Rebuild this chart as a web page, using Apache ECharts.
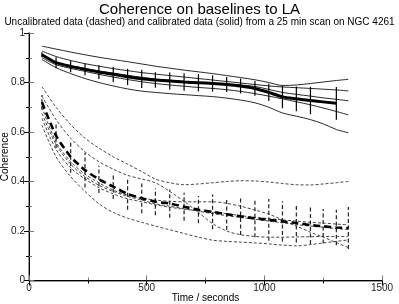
<!DOCTYPE html>
<html><head><meta charset="utf-8">
<script src="https://cdn.jsdelivr.net/npm/echarts@6/dist/echarts.min.js"></script>
<style>html,body{margin:0;padding:0;background:#fff}#c{width:399px;height:304px}</style>
</head><body><div id="c"></div>
<script>
const times = [55,115,177,238,297,358,419,479,537,598,659,720,780,840,899,960,1019,1077,1136,1196,1250,1306,1357];
// Calibrated (solid)
const calMean = [0.912,0.880,0.865,0.853,0.842,0.833,0.823,0.815,0.810,0.806,0.802,0.799,0.796,0.792,0.786,0.776,0.760,0.742,0.734,0.727,null,0.716,null];
const calErr  = [0.010,0.022,0.024,0.024,0.028,0.031,0.033,0.037,0.031,0.034,0.035,0.035,0.033,0.030,0.030,0.030,0.035,0.046,0.050,0.055,null,0.066,null];
const calA = [0.947,0.935,0.923,0.912,0.902,0.893,0.884,0.875,0.866,0.858,0.850,0.843,0.836,0.828,0.820,0.811,0.800,0.788,0.790,0.796,0.802,0.808,0.813];
const calB = [0.927,0.905,0.889,0.876,0.866,0.856,0.848,0.840,0.834,0.828,0.822,0.816,0.810,0.804,0.798,0.792,0.786,0.782,0.779,0.776,0.773,0.770,0.766];
const calC = [0.910,0.882,0.868,0.857,0.847,0.838,0.829,0.821,0.814,0.809,0.804,0.800,0.797,0.794,0.790,0.784,0.772,0.760,0.752,0.745,0.738,0.732,0.726];
const calD = [0.900,0.872,0.857,0.845,0.833,0.822,0.812,0.803,0.796,0.790,0.785,0.780,0.776,0.771,0.764,0.755,0.745,0.734,0.722,0.710,0.697,0.683,0.669];
const calE = [0.893,0.860,0.836,0.816,0.800,0.786,0.774,0.765,0.760,0.755,0.751,0.747,0.743,0.737,0.729,0.718,0.700,0.677,0.664,0.650,0.633,0.610,0.597];
// Uncalibrated (dashed)
const uncalMean = [0.720,0.585,0.500,0.446,0.409,0.379,0.350,0.332,0.318,0.311,0.298,0.286,0.277,0.268,0.259,0.251,0.245,0.239,0.232,0.224,0.219,0.214,0.212];
const uncalErr  = [0.030,0.050,0.065,0.070,0.055,0.050,0.064,0.060,0.054,0.057,0.057,0.055,0.070,0.064,0.075,0.076,0.084,0.081,0.078,0.077,0.070,0.072,0.085];
const uncalP = [0.783,0.700,0.630,0.575,0.535,0.500,0.470,0.440,0.410,0.395,0.387,0.390,0.395,0.400,0.403,0.402,0.398,0.392,0.387,0.386,0.390,0.395,0.400];
const uncalQ = [0.745,0.650,0.575,0.520,0.480,0.450,0.425,0.410,0.395,0.360,0.320,0.275,0.230,0.200,0.185,0.178,0.175,0.175,0.176,0.177,0.178,0.178,0.178];
const uncalS = [0.700,0.560,0.480,0.430,0.395,0.365,0.345,0.333,0.325,0.320,0.318,0.318,0.318,0.312,0.300,0.285,0.268,0.245,0.220,0.195,0.175,0.153,0.133];
const uncalU = [0.675,0.550,0.470,0.420,0.385,0.360,0.340,0.325,0.310,0.300,0.290,0.280,0.270,0.262,0.255,0.248,0.240,0.233,0.226,0.220,0.215,0.210,0.205];
const uncalV = [0.655,0.530,0.455,0.410,0.375,0.350,0.330,0.318,0.306,0.296,0.288,0.282,0.276,0.270,0.262,0.255,0.250,0.245,0.240,0.235,0.232,0.228,0.225];
const uncalR = [0.628,0.500,0.420,0.360,0.310,0.275,0.252,0.235,0.220,0.205,0.190,0.175,0.163,0.158,0.155,0.152,0.148,0.143,0.140,0.145,0.152,0.158,0.164];
const xTicks = [0,500,1000,1500];
const yTicks = [0,0.2,0.4,0.6,0.8,1];

const FONT = 'Liberation Sans, Arial, sans-serif';
const pair = arr => times.map((t,i)=>[t,arr[i]]);
function thin(arr, dashed){
  return {type:'line', data:pair(arr), symbol:'none', smooth:0.3, silent:true,
    lineStyle:{color: dashed?'#333':'#111', width:0.9, type: dashed?[3,2]:'solid'}, z:2};
}
function errBars(mean, err, dashed){
  const d = [];
  times.forEach((t,i)=>{ if(mean[i]!=null && err[i]!=null) d.push([t, mean[i]-err[i], mean[i]+err[i]]); });
  return {type:'custom', data:d, silent:true, z:3,
    renderItem:(params, api)=>{
      const a = api.coord([api.value(0), api.value(1)]);
      const b = api.coord([api.value(0), api.value(2)]);
      return {type:'line', shape:{x1:a[0],y1:a[1],x2:b[0],y2:b[1]},
        style:{stroke: dashed?'#222':'#000', lineWidth:1.2, lineDash: dashed?[4,2.5]:null}};
    }};
}
const series = [
  thin(calA,false), thin(calB,false), thin(calC,false), thin(calD,false), thin(calE,false),
  thin(uncalP,true), thin(uncalQ,true), thin(uncalS,true), thin(uncalU,true), thin(uncalV,true), thin(uncalR,true),
  errBars(calMean, calErr, false), errBars(uncalMean, uncalErr, true),
  {type:'line', data:pair(calMean), symbol:'none', connectNulls:true, smooth:0.2, silent:true, z:4,
    lineStyle:{color:'#000', width:3}},
  {type:'line', data:pair(uncalMean), symbol:'none', smooth:0.2, silent:true, z:4,
    lineStyle:{color:'#000', width:2.6, type:[7,4]}}
];
const plain = v => String(v);
const chart = echarts.init(document.getElementById('c'), null, {renderer:'canvas'});
chart.setOption({
  animation:false,
  backgroundColor:'#fff',
  title:[
    {text:'Coherence on baselines to LA', left:'center', top:2, padding:0,
     textStyle:{fontFamily:FONT, fontSize:15, fontWeight:'normal', color:'#000', lineHeight:16}},
    {text:'Uncalibrated data (dashed) and calibrated data (solid) from a 25 min scan on NGC 4261', left:'center', top:16, padding:0,
     textStyle:{fontFamily:FONT, fontSize:10, fontWeight:'normal', color:'#000', lineHeight:12}}
  ],
  grid:{left:29, right:17, top:33, bottom:23.5, containLabel:false, outerBoundsMode:'none'},
  xAxis:[
    {type:'value', min:xTicks[0], max:xTicks[xTicks.length-1], interval:500, position:'bottom',
     name:'Time / seconds', nameLocation:'middle', nameGap:13, nameMoveOverlap:false,
     nameTextStyle:{fontFamily:FONT, fontSize:10, color:'#000'},
     axisLine:{lineStyle:{color:'#777', width:1.5}},
     axisTick:{inside:true, length:5, lineStyle:{color:'#777'}},
     minorTick:{show:true, splitNumber:2, length:3, lineStyle:{color:'#777'}},
     axisLabel:{margin:3, fontFamily:FONT, fontSize:10, color:'#222', formatter:plain},
     splitLine:{show:false}},
    {type:'value', min:0, max:1500, interval:500, position:'top',
     axisLine:{show:true, lineStyle:{color:'#000', width:1}},
     axisTick:{inside:true, length:5, lineStyle:{color:'#000'}},
     minorTick:{show:true, splitNumber:2, length:3, lineStyle:{color:'#000'}},
     axisLabel:{show:false}, splitLine:{show:false}}
  ],
  yAxis:[
    {type:'value', min:yTicks[0], max:yTicks[yTicks.length-1], interval:0.2, position:'left',
     name:'Coherence', nameLocation:'middle', nameGap:19, nameMoveOverlap:false,
     nameTextStyle:{fontFamily:FONT, fontSize:10, color:'#000'},
     axisLine:{show:true, lineStyle:{color:'#777', width:1.5}},
     axisTick:{show:true, inside:true, length:5, lineStyle:{color:'#777'}},
     minorTick:{show:true, splitNumber:2, length:3, lineStyle:{color:'#777'}},
     axisLabel:{margin:4, fontFamily:FONT, fontSize:10, color:'#222', formatter:plain},
     splitLine:{show:false}},
    {type:'value', min:0, max:1, interval:0.2, position:'right',
     axisLine:{show:true, lineStyle:{color:'#000', width:1}},
     axisTick:{show:true, inside:true, length:5, lineStyle:{color:'#000'}},
     minorTick:{show:true, splitNumber:2, length:3, lineStyle:{color:'#000'}},
     axisLabel:{show:false}, splitLine:{show:false}}
  ],
  series: series
});
</script></body></html>
